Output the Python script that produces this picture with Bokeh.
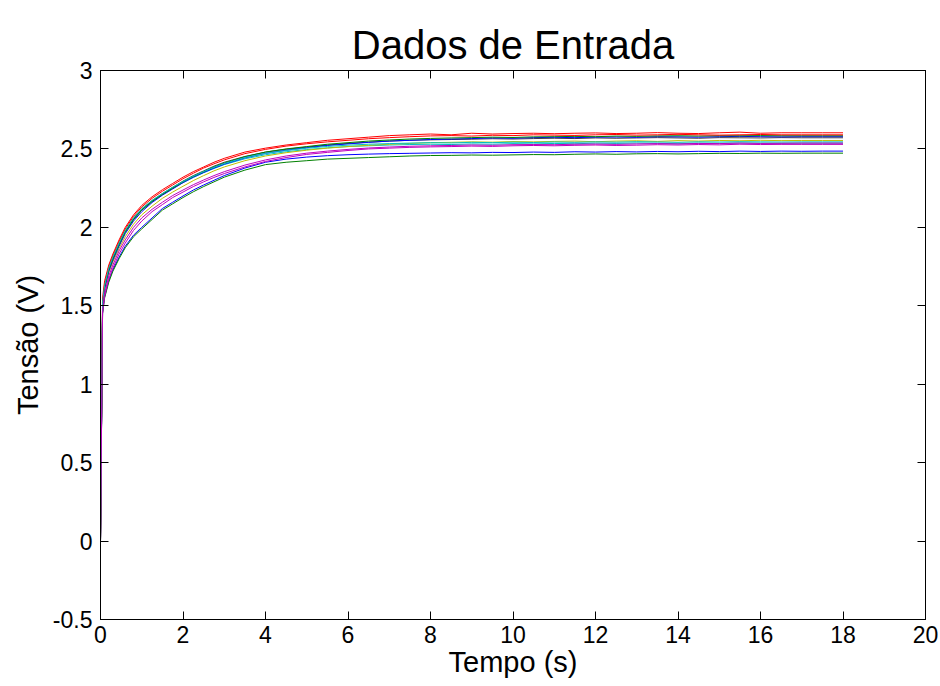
from bokeh.plotting import figure
from bokeh.models import LinearAxis, Range1d, FixedTicker, CustomJSTickFormatter
from bokeh.embed import file_html
from bokeh.resources import INLINE

# ---------------- data ----------------
T = [0, 0.05, 0.1, 0.2, 0.3, 0.45, 0.6, 0.8, 1.0, 1.25, 1.5, 1.75, 2.0, 2.25, 2.5,
     2.75, 3.0, 3.5, 4.0, 4.5, 5.0, 5.5, 6.0, 6.5, 7.0, 7.5, 8.0,
     8.5, 9.0, 9.5, 10.0, 10.5, 11.0, 11.5, 12.0, 12.5, 13.0, 13.5, 14.0, 14.5,
     15.0, 15.5, 16.0, 16.5, 17.0, 17.5, 18.0]

blue_1 = [0, 1.46, 1.56, 1.66, 1.73, 1.81, 1.88, 1.95, 2.0, 2.06, 2.12, 2.16, 2.2, 2.238, 2.27,
          2.3, 2.33, 2.378, 2.415, 2.435, 2.448, 2.457, 2.463, 2.467, 2.47, 2.472, 2.474,
          2.476, 2.475, 2.478, 2.477, 2.48, 2.478, 2.482, 2.48, 2.483, 2.481, 2.484, 2.482, 2.485,
          2.483, 2.486, 2.484, 2.486, 2.485, 2.486, 2.486]
green_1 = [0, 1.45, 1.55, 1.65, 1.72, 1.8, 1.87, 1.94, 1.99, 2.05, 2.11, 2.15, 2.19, 2.227, 2.26,
           2.29, 2.32, 2.365, 2.4, 2.415, 2.425, 2.435, 2.44, 2.445, 2.45, 2.455, 2.458,
           2.459, 2.461, 2.46, 2.462, 2.464, 2.463, 2.466, 2.468, 2.466, 2.469, 2.47, 2.468, 2.47,
           2.472, 2.471, 2.473, 2.472, 2.473, 2.473, 2.473]
red_1 = [0, 1.55, 1.66, 1.76, 1.83, 1.92, 2.00, 2.08, 2.14, 2.195, 2.24, 2.28, 2.32, 2.355, 2.385,
         2.415, 2.44, 2.48, 2.505, 2.525, 2.54, 2.555, 2.565, 2.575, 2.585, 2.59, 2.595,
         2.59, 2.6, 2.595, 2.598, 2.6, 2.597, 2.6, 2.602, 2.598, 2.6, 2.604, 2.6, 2.598,
         2.603, 2.607, 2.6, 2.603, 2.603, 2.603, 2.603]
cyan_1 = [0, 1.5, 1.62, 1.73, 1.8, 1.89, 1.97, 2.05, 2.11, 2.163, 2.208, 2.248, 2.285, 2.318, 2.348,
          2.375, 2.4, 2.437, 2.463, 2.482, 2.496, 2.507, 2.515, 2.52, 2.525, 2.528, 2.53,
          2.528, 2.532, 2.53, 2.534, 2.532, 2.535, 2.533, 2.537, 2.535, 2.538, 2.536, 2.533, 2.537,
          2.536, 2.538, 2.537, 2.536, 2.537, 2.537, 2.537]
magenta_1 = [0, 1.45, 1.56, 1.67, 1.74, 1.83, 1.9, 1.98, 2.04, 2.1, 2.145, 2.19, 2.225, 2.26, 2.29,
             2.318, 2.343, 2.385, 2.42, 2.445, 2.465, 2.478, 2.49, 2.5, 2.505, 2.51, 2.513,
             2.515, 2.518, 2.516, 2.52, 2.522, 2.52, 2.523, 2.525, 2.522, 2.524, 2.527, 2.525, 2.528,
             2.526, 2.53, 2.528, 2.529, 2.529, 2.529, 2.529]
yellow_1 = [0, 1.48, 1.6, 1.71, 1.78, 1.865, 1.94, 2.02, 2.08, 2.135, 2.185, 2.225, 2.262, 2.298, 2.33,
            2.36, 2.385, 2.425, 2.455, 2.476, 2.492, 2.505, 2.515, 2.523, 2.53, 2.535, 2.54,
            2.542, 2.545, 2.543, 2.547, 2.545, 2.548, 2.55, 2.546, 2.55, 2.552, 2.548, 2.553, 2.55,
            2.554, 2.552, 2.555, 2.553, 2.554, 2.554, 2.554]
black_1 = [0, 1.5, 1.62, 1.73, 1.805, 1.895, 1.975, 2.055, 2.115, 2.17, 2.215, 2.255, 2.295, 2.33, 2.36,
           2.39, 2.415, 2.452, 2.48, 2.498, 2.512, 2.525, 2.535, 2.543, 2.55, 2.555, 2.558,
           2.56, 2.562, 2.565, 2.563, 2.566, 2.568, 2.566, 2.57, 2.568, 2.57, 2.572, 2.57, 2.568,
           2.572, 2.571, 2.57, 2.572, 2.571, 2.571, 2.571]
blue_2 = [0, 1.48, 1.61, 1.72, 1.79, 1.88, 1.96, 2.04, 2.10, 2.158, 2.205, 2.245, 2.285, 2.32, 2.35,
          2.378, 2.403, 2.443, 2.472, 2.492, 2.508, 2.522, 2.532, 2.542, 2.55, 2.555, 2.56,
          2.563, 2.566, 2.57, 2.568, 2.572, 2.574, 2.572, 2.575, 2.576, 2.574, 2.578, 2.577, 2.575,
          2.578, 2.58, 2.578, 2.577, 2.578, 2.578, 2.578]
green_2 = [0, 1.5, 1.62, 1.73, 1.80, 1.89, 1.97, 2.05, 2.11, 2.165, 2.21, 2.25, 2.29, 2.325, 2.355,
           2.385, 2.41, 2.45, 2.48, 2.5, 2.515, 2.53, 2.54, 2.55, 2.557, 2.563, 2.567,
           2.57, 2.572, 2.575, 2.573, 2.577, 2.578, 2.58, 2.578, 2.582, 2.58, 2.583, 2.584, 2.582,
           2.584, 2.584, 2.585, 2.584, 2.584, 2.584, 2.584]
red_2 = [0, 1.52, 1.64, 1.75, 1.82, 1.91, 1.99, 2.07, 2.13, 2.185, 2.23, 2.27, 2.31, 2.345, 2.378,
         2.405, 2.43, 2.47, 2.497, 2.518, 2.533, 2.545, 2.555, 2.565, 2.572, 2.578, 2.583,
         2.585, 2.582, 2.587, 2.585, 2.59, 2.588, 2.586, 2.59, 2.592, 2.588, 2.59, 2.593, 2.59,
         2.588, 2.59, 2.592, 2.59, 2.59, 2.59, 2.59]
cyan_2 = [0, 1.52, 1.63, 1.74, 1.81, 1.9, 1.98, 2.06, 2.12, 2.172, 2.216, 2.256, 2.292, 2.326, 2.356,
          2.383, 2.407, 2.445, 2.472, 2.49, 2.505, 2.516, 2.524, 2.53, 2.534, 2.537, 2.54,
          2.538, 2.542, 2.54, 2.543, 2.541, 2.544, 2.542, 2.545, 2.543, 2.546, 2.544, 2.542, 2.545,
          2.544, 2.546, 2.545, 2.544, 2.545, 2.545, 2.545]
magenta_2 = [0, 1.47, 1.58, 1.69, 1.76, 1.85, 1.92, 2.0, 2.06, 2.115, 2.16, 2.203, 2.238, 2.272, 2.302,
             2.33, 2.355, 2.397, 2.43, 2.455, 2.473, 2.486, 2.497, 2.506, 2.512, 2.517, 2.52,
             2.522, 2.525, 2.523, 2.527, 2.528, 2.527, 2.53, 2.531, 2.529, 2.532, 2.534, 2.532, 2.535,
             2.534, 2.537, 2.535, 2.536, 2.537, 2.537, 2.537]

SERIES = [blue_1, green_1, red_1, cyan_1, magenta_1, yellow_1, black_1,
          blue_2, green_2, red_2, cyan_2, magenta_2]
COLORS = ["#0000FF", "#008000", "#FF0000", "#00BFBF", "#BF00BF", "#BFBF00", "#404040",
          "#0000FF", "#008000", "#FF0000", "#00BFBF", "#BF00BF"]

X_TICKS = [0, 2, 4, 6, 8, 10, 12, 14, 16, 18, 20]
Y_TICKS = [-0.5, 0, 0.5, 1, 1.5, 2, 2.5, 3]

TITLE = "Dados de Entrada"
X_LABEL = "Tempo (s)"
Y_LABEL = "Tensão (V)"

FONT = "Liberation Sans"

# ---------------- figure ----------------
p = figure(width=938, height=684, x_range=Range1d(0, 20), y_range=Range1d(-0.5, 3),
           output_backend="svg", toolbar_location=None,
           min_border_left=100, min_border_right=13, min_border_top=70, min_border_bottom=65)

p.background_fill_color = "white"
p.border_fill_color = "white"
p.outline_line_color = "black"
p.grid.visible = False

for ys, c in zip(SERIES, COLORS):
    p.line(T, ys, line_color=c, line_width=1)

fmt = CustomJSTickFormatter(code="return (Math.round(tick*10)/10).toString();")
blank = CustomJSTickFormatter(code="return '';")

bottom_ax = p.below[0]
left_ax = p.left[0]


def style(ax, show_labels):
    ax.axis_line_color = "black"
    ax.axis_line_width = 1
    ax.major_tick_line_color = "black"
    ax.major_tick_in = 8
    ax.major_tick_out = 0
    ax.minor_tick_line_color = None
    if show_labels:
        ax.formatter = fmt
        ax.major_label_text_font = FONT
        ax.major_label_text_font_size = "23px"
        ax.major_label_text_color = "black"
    else:
        ax.formatter = blank
        ax.major_label_standoff = 0


bottom_ax.ticker = FixedTicker(ticks=X_TICKS)
left_ax.ticker = FixedTicker(ticks=Y_TICKS)
style(bottom_ax, True)
style(left_ax, True)
bottom_ax.major_label_standoff = 6
left_ax.major_label_standoff = 8

top_ax = LinearAxis(ticker=FixedTicker(ticks=X_TICKS))
right_ax = LinearAxis(ticker=FixedTicker(ticks=Y_TICKS))
style(top_ax, False)
style(right_ax, False)
p.add_layout(top_ax, "above")
p.add_layout(right_ax, "right")

bottom_ax.axis_label = X_LABEL
left_ax.axis_label = Y_LABEL
for ax in (bottom_ax, left_ax):
    ax.axis_label_text_font = FONT
    ax.axis_label_text_font_size = "29px"
    ax.axis_label_text_font_style = "normal"
    ax.axis_label_text_color = "black"
bottom_ax.axis_label_standoff = 0
left_ax.axis_label_standoff = 6

p.title.text = TITLE
p.title.align = "center"
p.title.text_font = FONT
p.title.text_font_size = "40px"
p.title.text_font_style = "normal"
p.title.text_color = "black"
p.title.standoff = 8

open("out.html", "w").write(file_html(p, INLINE))
